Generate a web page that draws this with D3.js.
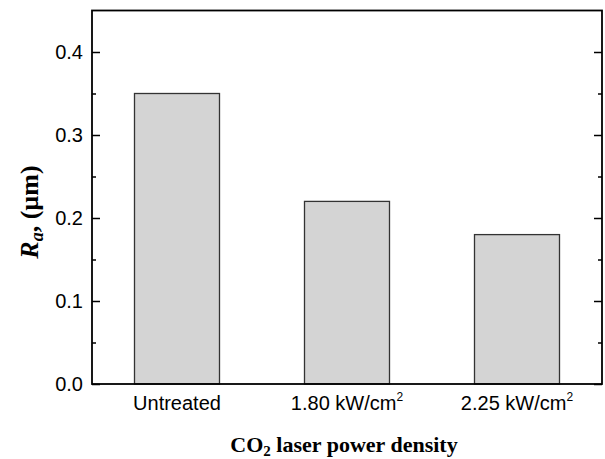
<!DOCTYPE html>
<html>
<head>
<meta charset="utf-8">
<script src="https://cdn.jsdelivr.net/npm/d3@7"></script>
<style>
  body { margin: 0; background: #fff; }
  svg { display: block; }
  .tick-label { font-family: "Liberation Sans", Arial, sans-serif; font-size: 20px; fill: #000; }
  .axis-title { font-family: "Liberation Serif", "Times New Roman", serif; font-weight: bold; fill: #000; }
</style>
</head>
<body>
<div id="chart"></div>
<script>
const categories = ["Untreated", "1.80 kW/cm", "2.25 kW/cm"];
const superscripts = ["", "2", "2"];
const roughness = [0.35, 0.22, 0.18];
const yTicks = [0.0, 0.1, 0.2, 0.3, 0.4];
const yMinorTicks = [0.05, 0.15, 0.25, 0.35];

const width = 605, height = 459;
const margin = { top: 10.5, right: 3, bottom: 75, left: 92 };

const svg = d3.select("#chart").append("svg")
  .attr("width", width)
  .attr("height", height);

const x = d3.scaleBand()
  .domain(categories)
  .range([margin.left, width - margin.right])
  .paddingInner(0.5)
  .paddingOuter(0.25);

const y = d3.scaleLinear()
  .domain([0, 0.45])
  .range([height - margin.bottom, margin.top]);

// bars
svg.selectAll(".bar")
  .data(categories)
  .enter()
  .append("rect")
  .attr("class", "bar")
  .attr("x", d => x(d))
  .attr("width", x.bandwidth())
  .attr("y", (d, i) => y(roughness[i]))
  .attr("height", (d, i) => y(0) - y(roughness[i]))
  .attr("fill", "#d4d4d4")
  .attr("stroke", "#333")
  .attr("stroke-width", 1.3);

// left / right axes with inward ticks
const leftAxis = d3.axisLeft(y).tickValues(yTicks).tickSize(-8).tickFormat(d3.format(".1f")).tickPadding(9);
const leftMinor = d3.axisLeft(y).tickValues(yMinorTicks).tickSize(-4).tickFormat("");
const rightAxis = d3.axisRight(y).tickValues(yTicks).tickSize(-8).tickFormat("");
const rightMinor = d3.axisRight(y).tickValues(yMinorTicks).tickSize(-4).tickFormat("");

function styleAxis(g) {
  g.select(".domain").remove();
  g.selectAll(".tick line").attr("stroke", "#000").attr("stroke-width", 1.5);
  g.selectAll(".tick text").attr("class", "tick-label").attr("font-size", null).attr("font-family", null);
}

svg.append("g").attr("transform", `translate(${margin.left},0)`).call(leftAxis).call(styleAxis);
svg.append("g").attr("transform", `translate(${margin.left},0)`).call(leftMinor).call(styleAxis);
svg.append("g").attr("transform", `translate(${width - margin.right},0)`).call(rightAxis).call(styleAxis);
svg.append("g").attr("transform", `translate(${width - margin.right},0)`).call(rightMinor).call(styleAxis);

// frame
svg.append("rect")
  .attr("x", margin.left)
  .attr("y", margin.top)
  .attr("width", width - margin.right - margin.left)
  .attr("height", y(0) - margin.top)
  .attr("fill", "none")
  .attr("stroke", "#000")
  .attr("stroke-width", 1.8);

// category labels
const xl = svg.selectAll(".xlabel")
  .data(categories)
  .enter()
  .append("text")
  .attr("class", "tick-label")
  .attr("x", d => x(d) + x.bandwidth() / 2)
  .attr("y", 410)
  .attr("text-anchor", "middle");
xl.append("tspan").text(d => d);
xl.append("tspan")
  .attr("font-size", "12px")
  .attr("dy", "-9")
  .text((d, i) => superscripts[i]);

// x title
const xt = svg.append("text")
  .attr("class", "axis-title")
  .attr("x", (margin.left + width - margin.right) / 2 - 3)
  .attr("y", 452)
  .attr("text-anchor", "middle")
  .attr("font-size", "22px");
xt.append("tspan").text("CO");
xt.append("tspan").attr("font-size", "15px").attr("dy", "4").text("2");
xt.append("tspan").attr("dy", "-4").text(" laser power density");

// y title
const yt = svg.append("text")
  .attr("class", "axis-title")
  .attr("transform", "translate(38,212) rotate(-90)")
  .attr("text-anchor", "middle")
  .attr("font-size", "26px");
yt.append("tspan").attr("font-style", "italic").text("R");
yt.append("tspan").attr("font-style", "italic").attr("font-size", "18px").attr("dy", "5").text("a");
yt.append("tspan").attr("dy", "-5").text(", (\u00b5m)");
</script>
</body>
</html>
